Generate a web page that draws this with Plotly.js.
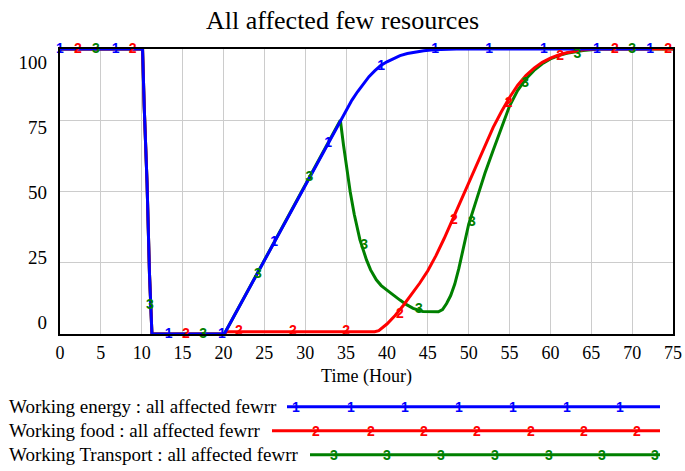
<!DOCTYPE html>
<html>
<head>
<meta charset="utf-8">
<script src="https://cdn.plot.ly/plotly-3.0.1.min.js"></script>
<style>html,body{margin:0;padding:0;background:#fff;}#chart{width:685px;height:471px;}</style>
</head>
<body>
<div id="chart"></div>
<script>
// ---- data ----
const chartTitle = "All affected few resources";
const xTitle = "Time (Hour)";
const seriesNames = [
  "Working energy : all affected fewrr",
  "Working food : all affected fewrr",
  "Working Transport : all affected fewrr"
];
const seriesColors = ["#0000ff", "#ff0000", "#008000"];
const seriesTags = ["1", "2", "3"];

const energyT = [0, 10.1, 10.3, 10.65, 10.95, 11.25, 20.1, 34.3, 35, 35.7, 36.4, 37.1, 37.8, 38.5, 39.2, 40, 40.8, 41.6, 42.5, 43.5, 44.5, 45.7, 47, 48.5, 72.4];
const energyV = [100, 100, 80, 53, 21, 0, 0, 75, 78.6, 82, 85, 87.8, 90.3, 92.3, 94.1, 95.5, 96.7, 97.7, 98.4, 99, 99.4, 99.7, 99.9, 100, 100];

const foodT = [0, 10.1, 10.3, 10.65, 10.95, 11.25, 20.1, 20.4, 38.5, 39, 40, 41, 42, 43, 44, 45, 46, 47, 48, 49, 50, 51, 52, 53, 54, 55, 56, 57, 58, 59, 60, 61, 62, 63, 64, 65.5, 75];
const foodV = [100, 100, 80, 53, 21, 0, 0, 0.8, 0.8, 1.2, 3.5, 6.5, 10, 13.8, 17.8, 22.2, 27.5, 33.5, 40, 46.5, 53, 59.5, 66, 72.5, 78, 83, 87.3, 90.7, 93.3, 95.3, 96.8, 97.9, 98.7, 99.3, 99.7, 100, 100];

const transT = [0, 10.1, 10.3, 10.65, 10.95, 11.25, 20.1, 34.3, 34.7, 35.1, 35.5, 36, 36.7, 37.5, 38, 38.7, 39.3, 40, 40.8, 41.6, 42.4, 43.2, 44.4, 45.5, 46.3, 46.8, 47.3, 47.8, 48.3, 48.8, 49.3, 50, 51, 52, 53, 54, 55, 56, 57, 58, 59, 60, 61, 62, 63, 64, 66, 75];
const transV = [100, 100, 80, 53, 21, 0, 0, 75, 66, 57, 50, 42, 33, 26, 22.5, 19, 17, 15.4, 13.5, 11.9, 10.3, 9, 7.9, 7.7, 7.8, 8.6, 10.7, 13.5, 17.5, 23, 29, 38.5, 47.5, 56.5, 64.5, 72.5, 80, 85.5, 89.5, 92.5, 94.8, 96.5, 97.7, 98.5, 99.1, 99.5, 100, 100];

// series-number tags placed along the lines
const energyTagT = [0, 6.8, 13.3, 19.8, 26.2, 32.8, 39.3, 45.9, 52.5, 59.2, 65.7, 72.2];
const energyTagV = [100, 100, 0, 0, 32, 67, 94, 100, 100, 100, 100, 100];
const foodTagT = [2.2, 8.9, 15.4, 21.9, 28.5, 35, 41.6, 48.2, 54.9, 61.2, 67.9, 74.4];
const foodTagV = [100, 100, 0, 1, 1, 1, 7, 40, 81, 97.5, 100, 100];
const transTagT = [4.4, 11, 17.5, 24.2, 30.5, 37.2, 43.9, 50.4, 56.9, 63.3, 70];
const transTagV = [100, 10, 0, 21, 55, 31, 8.5, 39, 88, 98, 100];

const xTicks = [0, 5, 10, 15, 20, 25, 30, 35, 40, 45, 50, 55, 60, 65, 70, 75];
const yTicks = [0, 25, 50, 75, 100];

// ---- build ----
const serif = "Liberation Serif, Times New Roman, serif";
const tagFont = (c) => ({family: "Liberation Sans, Arial, sans-serif", size: 14, color: c, weight: "bold"});

function line(t, v, i) {
  return {x: t, y: v, type: "scatter", mode: "lines", line: {color: seriesColors[i], width: 3}, hoverinfo: "skip", showlegend: false, cliponaxis: false};
}
function tags(t, v, i) {
  return {x: t, y: v, type: "scatter", mode: "text", text: t.map(() => seriesTags[i]), textposition: "middle center", textfont: tagFont(seriesColors[i]), hoverinfo: "skip", showlegend: false, cliponaxis: false};
}

const traces = [
  line(transT, transV, 2),
  line(foodT, foodV, 1),
  line(energyT, energyV, 0),
  tags(transTagT, transTagV, 2),
  tags(foodTagT, foodTagV, 1),
  tags(energyTagT, energyTagV, 0),
  // invisible trace to carry the tick-label axis
  {x: [0], y: [0], yaxis: "y2", type: "scatter", mode: "markers", marker: {opacity: 0}, hoverinfo: "skip", showlegend: false}
];

// legend (drawn below the plot, paper coordinates)
const L = 60, W = 613, T = 48.5, H = 285.5;
const px = (x) => (x - L) / W;
const py = (y) => (T + H - y) / H;
const legendRows = [
  {y: 407, x0: 287, x1: 660, marks: [296, 351, 405, 459, 513, 567, 620]},
  {y: 431, x0: 272, x1: 660, marks: [316, 371, 424, 477, 531, 584, 637]},
  {y: 455, x0: 310, x1: 660, marks: [334, 387, 441, 495, 549, 602, 655]}
];
const shapes = [];
const annotations = [];
legendRows.forEach((r, i) => {
  shapes.push({type: "line", xref: "paper", yref: "paper", x0: px(r.x0), x1: px(r.x1), y0: py(r.y), y1: py(r.y), line: {color: seriesColors[i], width: 3}});
  annotations.push({xref: "paper", yref: "paper", x: px(7), y: py(r.y), xanchor: "left", yanchor: "middle", text: seriesNames[i], showarrow: false, font: {family: serif, size: 19, color: "#000"}});
  r.marks.forEach(m => annotations.push({xref: "paper", yref: "paper", x: px(m), y: py(r.y), xanchor: "center", yanchor: "middle", text: seriesTags[i], showarrow: false, font: tagFont(seriesColors[i])}));
});

const layout = {
  width: 685, height: 471,
  margin: {l: 60, r: 12, t: 48.5, b: 137},
  paper_bgcolor: "#fff", plot_bgcolor: "#fff",
  showlegend: false,
  title: {text: chartTitle, font: {family: serif, size: 26, color: "#000"}, x: 0.5, xref: "container", xanchor: "center", y: 1 - 20 / 471, yref: "container", yanchor: "middle"},
  xaxis: {range: [0, 75], tickvals: xTicks, ticktext: xTicks.map(String), showgrid: true, gridcolor: "#cccccc", gridwidth: 1, zeroline: false,
          showline: true, linecolor: "#000", linewidth: 2, mirror: true, ticks: "", ticklabelstandoff: 1,
          tickfont: {family: serif, size: 18, color: "#000"},
          title: {text: xTitle, font: {family: serif, size: 18, color: "#000"}, standoff: 8}},
  yaxis: {range: [0, 100], tickvals: [25, 50, 75], showticklabels: false, showgrid: true, gridcolor: "#cccccc", gridwidth: 1, zeroline: false,
          showline: true, linecolor: "#000", linewidth: 2, mirror: true, ticks: ""},
  yaxis2: {overlaying: "y", side: "left", range: [-4.6, 105], tickvals: yTicks, ticktext: yTicks.map(String), showgrid: false, zeroline: false,
           showline: false, ticks: "", ticklabelstandoff: 12, tickfont: {family: serif, size: 19, color: "#000"}},
  shapes: shapes,
  annotations: annotations
};

Plotly.newPlot("chart", traces, layout, {displayModeBar: false, staticPlot: true});
</script>
</body>
</html>
